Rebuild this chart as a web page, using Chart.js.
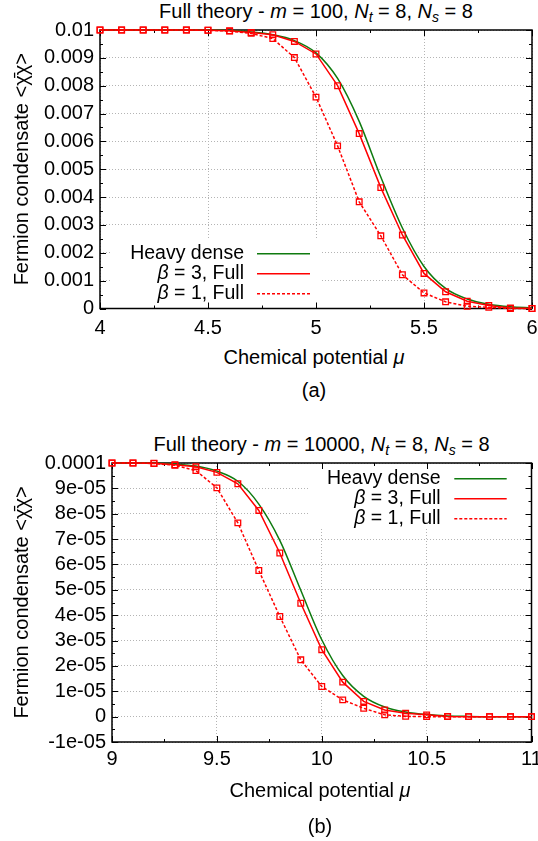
<!DOCTYPE html>
<html>
<head>
<meta charset="utf-8">
<script src="https://cdn.jsdelivr.net/npm/chart.js@4.4.1/dist/chart.umd.min.js"></script>
<style>
  html, body { margin:0; padding:0; background:#fff; }
  body { width:538px; height:841px; position:relative; overflow:hidden;
         font-family:'Liberation Sans', Arial, Helvetica, sans-serif; color:#000; }
  .txt { position:absolute; white-space:nowrap; font-size:20px; line-height:24px;
         transform:translateX(-50%); }
  .txt sub { font-size:14px; line-height:0; vertical-align:-4px; }
  .cv { position:absolute; left:0; }
</style>
</head>
<body>
<div class="txt" style="left:316px; top:-1px;">Full theory - <i>m</i> = 100, <i>N<sub>t</sub></i> = 8, <i>N<sub>s</sub></i> = 8</div>
<canvas id="chartA" class="cv" style="top:0px" width="538" height="345"></canvas>
<div class="txt" style="left:314px; top:345px;">Chemical potential <i>μ</i></div>
<div class="txt" style="left:314px; top:378px;">(a)</div>

<div class="txt" style="left:321.5px; top:432px;">Full theory - <i>m</i> = 10000, <i>N<sub>t</sub></i> = 8, <i>N<sub>s</sub></i> = 8</div>
<canvas id="chartB" class="cv" style="top:420px" width="538" height="360"></canvas>
<div class="txt" style="left:320px; top:778px;">Chemical potential <i>μ</i></div>
<div class="txt" style="left:320px; top:814px;">(b)</div>

<script>
// ---------------- DATA: chart (a), m = 100 ----------------
const muA = [4.0,4.1,4.2,4.3,4.4,4.5,4.6,4.7,4.8,4.9,5.0,5.1,5.2,5.3,5.4,5.5,5.6,5.7,5.8,5.9,6.0];
const heavyA = [0.01,0.01,0.01,0.01,0.01,0.01,0.00998,0.00993,0.00983,0.00962,0.00918,0.00826,0.00672,0.00472,0.00289,0.00151,0.00072,0.00034,0.00015,0.00006,0.00002];
const beta3A = [0.01,0.01,0.01,0.01,0.01,0.00999,0.00997,0.00991,0.00983,0.00959,0.00914,0.00800,0.00628,0.00434,0.00264,0.00126,0.00060,0.00026,0.00011,0.00002,0.00000];
const beta1A = [0.01,0.01,0.01,0.01,0.01,0.00999,0.00996,0.00988,0.00969,0.00901,0.00759,0.00584,0.00383,0.00261,0.00121,0.00056,0.00024,0.00008,0.00004,0.00000,0.00000];
const xTicksA = [4,4.5,5,5.5,6];
const xTickLabelsA = ['4','4.5','5','5.5','6'];
const yTicksA = [0,0.001,0.002,0.003,0.004,0.005,0.006,0.007,0.008,0.009,0.01];
const yTickLabelsA = ['0','0.001','0.002','0.003','0.004','0.005','0.006','0.007','0.008','0.009','0.01'];

// ---------------- DATA: chart (b), m = 10000 ----------------
const muB = [9.0,9.1,9.2,9.3,9.4,9.5,9.6,9.7,9.8,9.9,10.0,10.1,10.2,10.3,10.4,10.5,10.6,10.7,10.8,10.9,11.0];
const heavyB = [1.0e-4,1.0e-4,9.99e-5,9.96e-5,9.88e-5,9.68e-5,9.28e-5,8.38e-5,6.95e-5,4.98e-5,3.03e-5,1.62e-5,0.80e-5,0.38e-5,0.18e-5,0.08e-5,0.03e-5,0.01e-5,0,0,0];
const beta3B = [1.0e-4,1.0e-4,9.99e-5,9.93e-5,9.85e-5,9.63e-5,9.18e-5,8.13e-5,6.45e-5,4.47e-5,2.64e-5,1.36e-5,0.60e-5,0.26e-5,0.13e-5,0.07e-5,0.01e-5,0,0,0,0];
const beta1B = [1.0e-4,1.0e-4,9.98e-5,9.91e-5,9.70e-5,9.02e-5,7.64e-5,5.76e-5,3.95e-5,2.24e-5,1.19e-5,0.66e-5,0.33e-5,0.07e-5,0.01e-5,0,0,0,0,0,0];
const xTicksB = [9,9.5,10,10.5,11];
const xTickLabelsB = ['9','9.5','10','10.5','11'];
const yTicksB = [-1e-5,0,1e-5,2e-5,3e-5,4e-5,5e-5,6e-5,7e-5,8e-5,9e-5,1e-4];
const yTickLabelsB = ['-1e-05','0','1e-05','2e-05','3e-05','4e-05','5e-05','6e-05','7e-05','8e-05','9e-05','0.0001'];

const seriesLabels = ['Heavy dense','β = 3, Full','β = 1, Full'];

// ---------------- rendering ----------------
const FAMILY = "'Liberation Sans', Arial, Helvetica, sans-serif";
Chart.defaults.font.family = FAMILY;
Chart.defaults.font.size = 20;
Chart.defaults.color = '#000';

const GREEN = '#0f7a0f';
const RED = '#ff0000';

function pts(xs, ys) { return xs.map((x, i) => ({x: x, y: ys[i]})); }

// gnuplot-like frame, inward ticks and opaque key
const gnuStyle = {
  id: 'gnuStyle',
  beforeDatasetsDraw(chart, args, o) {
    const ctx = chart.ctx, a = chart.chartArea;
    const xs = chart.scales.x, ys = chart.scales.y;
    ctx.save();
    // opaque key box
    const b = o.keyBox;
    ctx.fillStyle = '#fff';
    ctx.fillRect(b[0], b[1], b[2] - b[0], b[3] - b[1]);
    // ticks
    ctx.strokeStyle = '#000';
    ctx.lineWidth = 1;
    ctx.beginPath();
    const xt = o.xTicks, yt = o.yTicks;
    const tick = (list, isX, len) => {
      list.forEach(v => {
        if (isX) {
          const p = Math.round(xs.getPixelForValue(v)) + 0.5;
          ctx.moveTo(p, a.bottom); ctx.lineTo(p, a.bottom - len);
          ctx.moveTo(p, a.top); ctx.lineTo(p, a.top + len);
        } else {
          const p = Math.round(ys.getPixelForValue(v)) + 0.5;
          ctx.moveTo(a.left, p); ctx.lineTo(a.left + len, p);
          ctx.moveTo(a.right, p); ctx.lineTo(a.right - len, p);
        }
      });
    };
    const mids = l => l.slice(1).map((v, i) => (v + l[i]) / 2);
    tick(xt, true, 6); tick(yt, false, 6);
    tick(mids(xt), true, 3); tick(mids(yt), false, 3);
    ctx.stroke();
    // frame
    ctx.lineWidth = 1.5;
    ctx.strokeRect(a.left, a.top, a.right - a.left, a.bottom - a.top);
    ctx.restore();
  },
  afterDatasetsDraw(chart, args, o) {
    const ctx = chart.ctx;
    ctx.save();
    ctx.textBaseline = 'middle';
    ctx.textAlign = 'left';
    ctx.fillStyle = '#000';
    chart.data.datasets.forEach((ds, i) => {
      const y = o.keyRows[i];
      // label, leading greek letter in italic
      const m = ds.label.match(/^([\u03b1-\u03c9])(.*)$/);
      const parts = m ? [{t: m[1], it: true}, {t: m[2], it: false}] : [{t: ds.label, it: false}];
      let w = 0;
      parts.forEach(p => { ctx.font = (p.it ? 'italic ' : '') + o.keyFont + 'px ' + FAMILY; p.w = ctx.measureText(p.t).width; w += p.w; });
      let x = o.keyTextRight - w;
      parts.forEach(p => { ctx.font = (p.it ? 'italic ' : '') + o.keyFont + 'px ' + FAMILY; ctx.fillText(p.t, x, y); x += p.w; });
      // line sample
      ctx.beginPath();
      ctx.strokeStyle = ds.borderColor;
      ctx.lineWidth = ds.borderWidth;
      ctx.setLineDash(ds.borderDash || []);
      ctx.moveTo(o.keySample[0], y + 0.5);
      ctx.lineTo(o.keySample[1], y + 0.5);
      ctx.stroke();
      ctx.setLineDash([]);
    });
    ctx.restore();
  }
};

function makeChart(id, mu, heavy, b3, b1, xT, xL, yT, yL, geo) {
  const common = {
    showLine: true, clip: false, tension: 0, borderWidth: 1.5,
    pointStyle: 'rect', pointRadius: 4, pointBorderWidth: 1.3,
    pointBackgroundColor: 'rgba(0,0,0,0)', pointBorderColor: RED, borderColor: RED
  };
  return new Chart(document.getElementById(id), {
    type: 'line',
    data: {
      datasets: [
        { label: seriesLabels[0], data: pts(mu, heavy), borderColor: GREEN, borderWidth: 1.5,
          pointRadius: 0, cubicInterpolationMode: 'monotone', clip: false, order: 3 },
        Object.assign({ label: seriesLabels[1], data: pts(mu, b3), order: 2 }, common),
        Object.assign({ label: seriesLabels[2], data: pts(mu, b1), borderDash: [3, 2], order: 1 }, common)
      ]
    },
    options: {
      responsive: false, animation: false, devicePixelRatio: 1,
      layout: { padding: { top: geo.top, right: geo.right, left: 0, bottom: 0 } },
      plugins: {
        legend: { display: false }, tooltip: { enabled: false },
        gnuStyle: { xTicks: xT, yTicks: yT, keyBox: geo.keyBox, keyRows: geo.keyRows,
                    keyTextRight: geo.keyTextRight, keySample: geo.keySample, keyFont: 19.5 }
      },
      scales: {
        x: {
          type: 'linear', min: xT[0], max: xT[xT.length - 1],
          afterBuildTicks: s => { s.ticks = xT.map(v => ({value: v})); },
          afterFit: s => { s.height = geo.xAxisH; s.paddingLeft = 0; s.paddingRight = 0; },
          ticks: { callback: (v, i) => xL[i], padding: geo.xPad, maxRotation: 0, minRotation: 0, autoSkip: false, font: { size: 20 } },
          grid: { color: '#b4b4b4', lineWidth: 1, drawTicks: false },
          border: { display: false, dash: [1, 2] }
        },
        y: {
          type: 'linear', min: yT[0], max: yT[yT.length - 1],
          afterBuildTicks: s => { s.ticks = yT.map(v => ({value: v})); },
          afterFit: s => { s.width = geo.left; s.paddingTop = 0; s.paddingBottom = 0; },
          ticks: { callback: (v, i) => yL[i], padding: 6, autoSkip: false, font: { size: 20 } },
          grid: { color: '#b4b4b4', lineWidth: 1, drawTicks: false },
          border: { display: false, dash: [1, 2] },
          title: { display: true, text: 'Fermion condensate <χ̄χ>', font: { size: 20 }, padding: { top: 10, bottom: 0 } }
        }
      }
    },
    plugins: [gnuStyle]
  });
}

makeChart('chartA', muA, heavyA, beta3A, beta1A, xTicksA, xTickLabelsA, yTicksA, yTickLabelsA, {
  top: 30, right: 6, left: 100, xAxisH: 345 - 308.5, xPad: 7.8,
  keyBox: [110, 240, 321, 307], keyRows: [253.3, 273.3, 293.3], keyTextRight: 244, keySample: [257, 310]
});
makeChart('chartB', muB, heavyB, beta3B, beta1B, xTicksB, xTickLabelsB, yTicksB, yTickLabelsB, {
  top: 43, right: 6.5, left: 112, xAxisH: 360 - 322, xPad: 5,
  keyBox: [310, 44, 531, 108], keyRows: [58.3, 78.3, 98.3], keyTextRight: 440.7, keySample: [454.3, 506.7]
});
</script>
</body>
</html>
